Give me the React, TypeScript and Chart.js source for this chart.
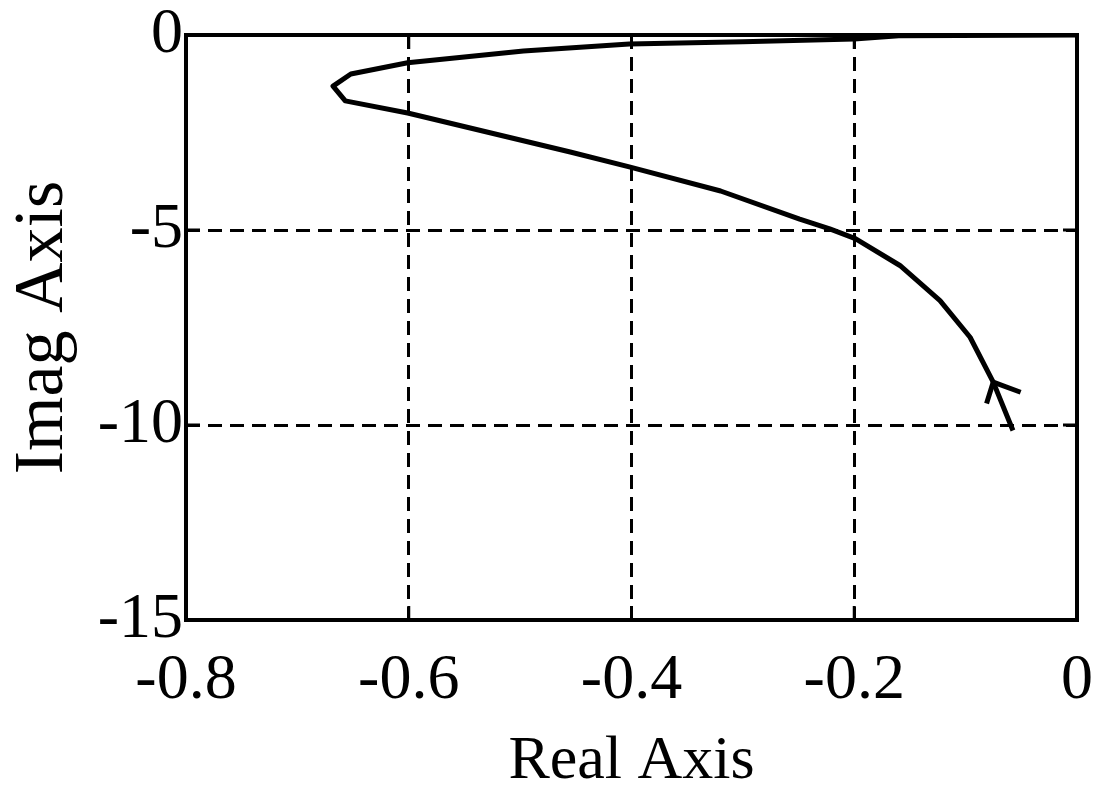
import React, { useEffect, useRef } from "react";
import { Chart, registerables } from "chart.js";

Chart.register(...registerables);

// Nyquist curve (real part, imaginary part), from omega = 0 outward
const realPart = [0, -0.16, -0.2, -0.3, -0.402, -0.497, -0.601, -0.652, -0.668, -0.657, -0.601, -0.455, -0.402, -0.32, -0.249, -0.222, -0.199, -0.159, -0.123, -0.096, -0.0752, -0.0575];
const imagPart = [0, -0.02, -0.1, -0.17, -0.23, -0.41, -0.71, -1.0, -1.31, -1.69, -2.0, -3.0, -3.38, -4.0, -4.72, -4.97, -5.22, -5.91, -6.81, -7.75, -8.9, -10.14];

// direction arrow head (wing, tip, wing)
const arrowReal = [-0.0812, -0.0752, -0.0506];
const arrowImag = [-9.45, -8.9, -9.16];

const xTicks = [-0.8, -0.6, -0.4, -0.2, 0];
const yTicks = [-15, -10, -5, 0];
const xTitle = "Real Axis";
const yTitle = "Imag Axis";

const SERIF = "'Liberation Serif', 'Times New Roman', serif";

const framePlugin = {
  id: "frame",
  afterDraw(chart: any) {
    const { ctx, chartArea: a, scales } = chart;
    ctx.save();
    ctx.setLineDash([]);
    ctx.strokeStyle = "#000";
    ctx.lineWidth = 4;
    ctx.strokeRect(a.left, a.top, a.right - a.left, a.bottom - a.top);
    ctx.lineWidth = 3;
    ctx.beginPath();
    xTicks.forEach((v) => {
      const px = scales.x.getPixelForValue(v);
      ctx.moveTo(px, a.bottom);
      ctx.lineTo(px, a.bottom - 14);
      ctx.moveTo(px, a.top);
      ctx.lineTo(px, a.top + 14);
    });
    yTicks.forEach((v) => {
      const py = scales.y.getPixelForValue(v);
      ctx.moveTo(a.left, py);
      ctx.lineTo(a.left + 14, py);
      ctx.moveTo(a.right, py);
      ctx.lineTo(a.right - 14, py);
    });
    ctx.stroke();
    ctx.restore();
  },
};

export default function App() {
  const canvasRef = useRef<HTMLCanvasElement | null>(null);

  useEffect(() => {
    if (!canvasRef.current) return;
    const curve = realPart.map((x, i) => ({ x, y: imagPart[i] }));
    const arrow = arrowReal.map((x, i) => ({ x, y: arrowImag[i] }));
    const chart = new Chart(canvasRef.current, {
      type: "scatter",
      data: {
        datasets: [
          {
            data: curve,
            showLine: true,
            borderColor: "#000",
            borderWidth: 5,
            pointRadius: 0,
            tension: 0,
            borderJoinStyle: "round",
          },
          {
            data: arrow,
            showLine: true,
            borderColor: "#000",
            borderWidth: 5,
            pointRadius: 0,
            tension: 0,
            borderJoinStyle: "round",
          },
        ],
      },
      options: {
        animation: false,
        responsive: false,
        devicePixelRatio: 1,
        layout: { padding: { top: 35, right: 24, left: 0, bottom: 0 } },
        plugins: {
          legend: { display: false },
          tooltip: { enabled: false },
        },
        scales: {
          x: {
            type: "linear",
            min: -0.8,
            max: 0,
            afterBuildTicks: (s: any) => {
              s.ticks = xTicks.map((value) => ({ value }));
            },
            afterFit: (s: any) => {
              s.height = 165;
            },
            grid: { color: "#000", lineWidth: 3, drawTicks: false },
            border: { display: false, dash: [14, 8] },
            ticks: {
              color: "#000",
              font: { family: SERIF, size: 64, lineHeight: 1.9 },
              padding: 0,
              maxRotation: 0,
              autoSkip: false,
              callback: (v: any) => String(v),
            },
            title: {
              display: true,
              text: xTitle,
              color: "#000",
              font: { family: SERIF, size: 62, lineHeight: 0.74 },
              padding: 0,
            },
          },
          y: {
            type: "linear",
            min: -15,
            max: 0,
            afterBuildTicks: (s: any) => {
              s.ticks = yTicks.map((value) => ({ value }));
            },
            afterFit: (s: any) => {
              s.width = 186;
            },
            grid: { color: "#000", lineWidth: 3, drawTicks: false },
            border: { display: false, dash: [14, 8] },
            ticks: {
              color: "#000",
              font: { family: SERIF, size: 64, lineHeight: 1 },
              padding: 3,
              autoSkip: false,
              callback: (v: any) => String(v),
            },
            title: {
              display: true,
              text: yTitle,
              color: "#000",
              font: { family: SERIF, size: 70, lineHeight: 1.2 },
              padding: { top: 2, bottom: 0 },
            },
          },
        },
      },
      plugins: [framePlugin],
    } as any);
    return () => chart.destroy();
  }, []);

  return (
    <div style={{ position: "absolute", left: 0, top: 0, width: 1101, height: 785, background: "#fff" }}>
      <canvas ref={canvasRef} width={1101} height={785} style={{ display: "block", width: 1101, height: 785 }} />
    </div>
  );
}
